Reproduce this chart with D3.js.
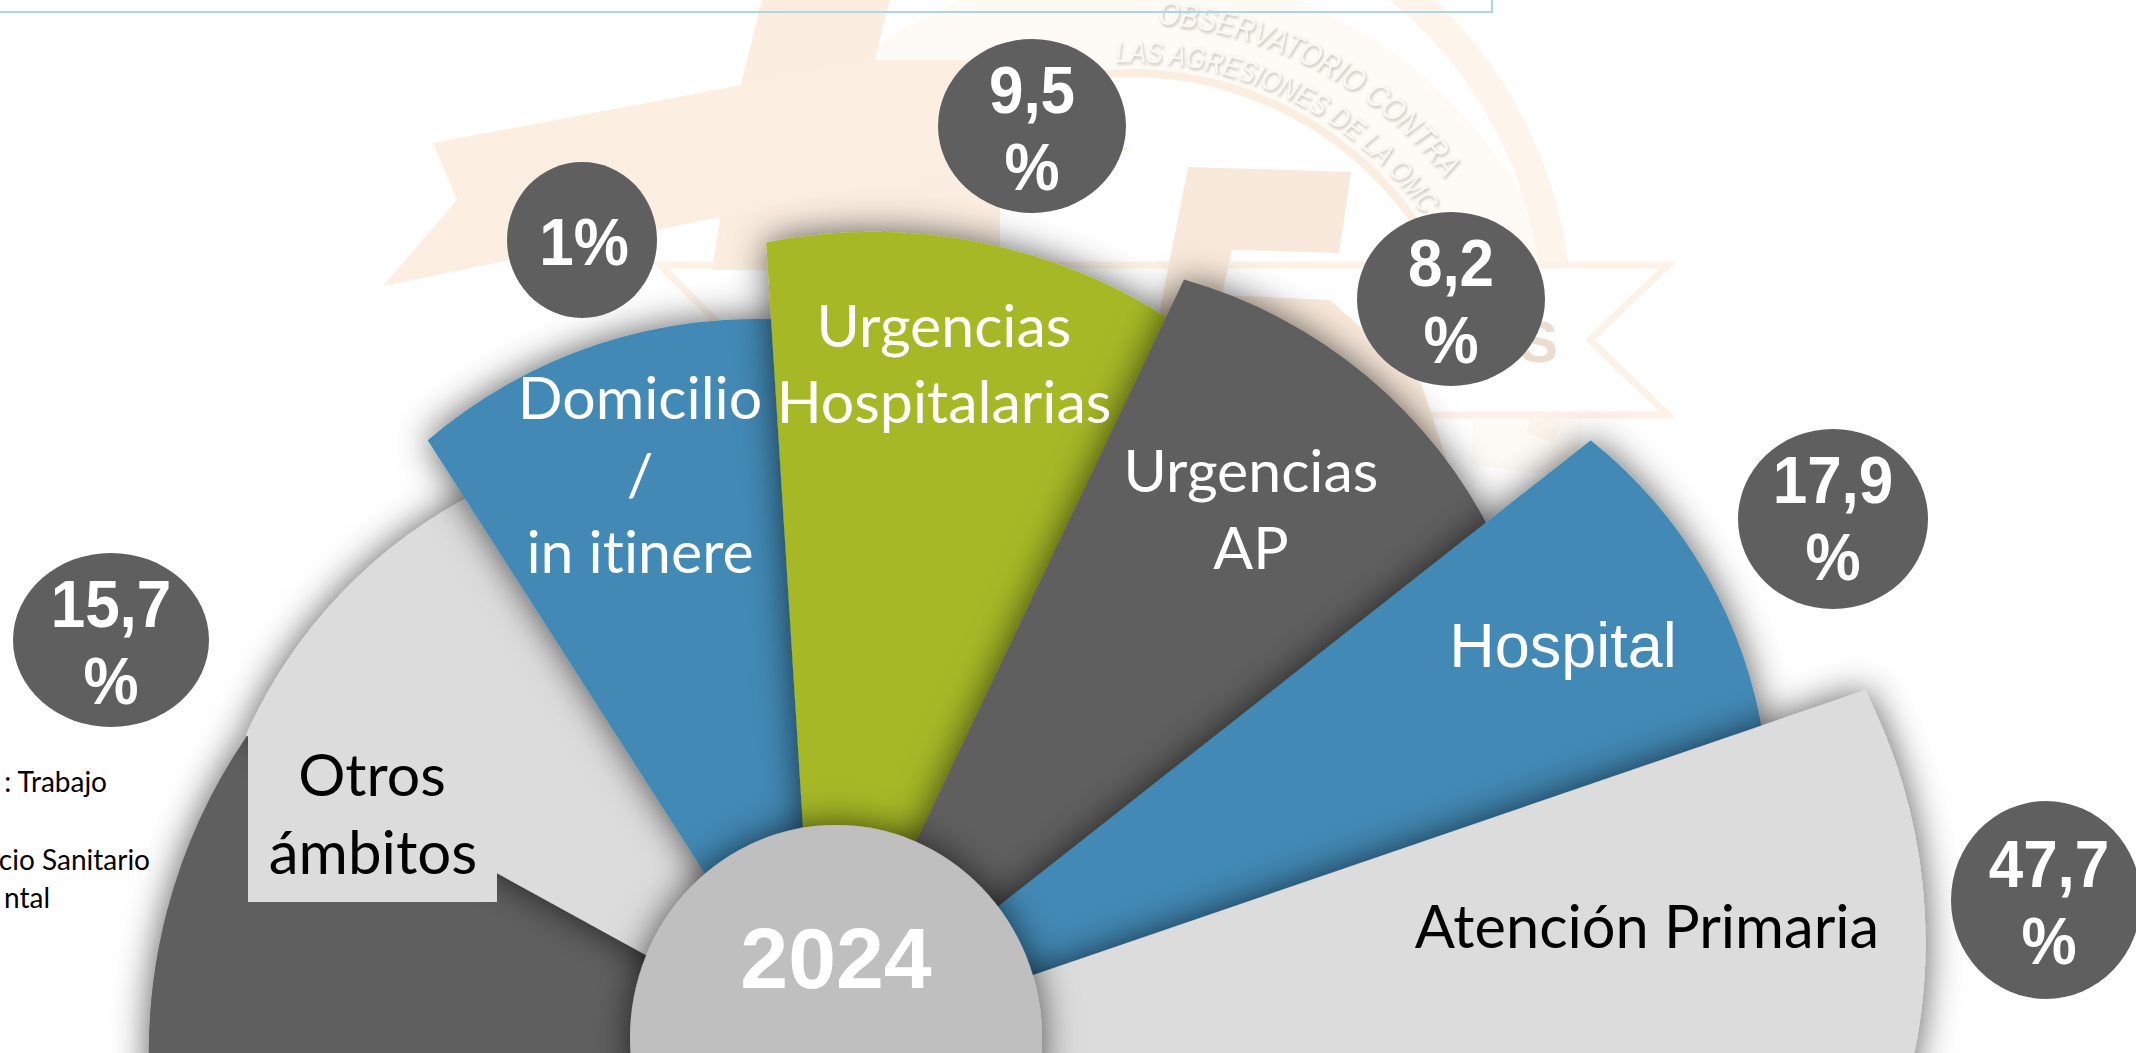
<!DOCTYPE html>
<html>
<head>
<meta charset="utf-8">
<script src="https://cdn.jsdelivr.net/npm/d3@7"></script>
<style>
  html, body { margin: 0; padding: 0; background: #fff; overflow: hidden; }
  svg { display: block; }
  .sans { font-family: "Liberation Sans", Arial, sans-serif; }
  .calibri { font-family: Lato, "Open Sans", sans-serif; font-variant-ligatures: none; }
</style>
</head>
<body>
<svg id="chart" width="2136" height="1053"></svg>
<script>
// values
const year = "2024";
const categories = ["Otros ámbitos", "Domicilio / in itinere", "Urgencias Hospitalarias", "Urgencias AP", "Hospital", "Atención Primaria"];
const percents = ["15,7", "1", "9,5", "8,2", "17,9", "47,7"];

// wedges, clockwise from the left. Otros has two wedges (dark under the light one)
// angles in degrees from straight up, reach on a 0-100 scale
const wedgeNames = ["otrosBase", "otros", "domicilio", "urgHosp", "urgAP", "hospital", "primaria"];
const wedgeStart = [-94.3, -61.2, -32.6, -3.6, 25.5, 51.8, 71.1];
const wedgeEnd = [-61.2, -31, -2, 26.5, 53, 72, 92];
const reachStart = [60.2, 58.7, 65.1, 72.8, 76.8, 88.7, 99.8];
const reachEnd = [58.6, 58.7, 65.7, 72.9, 76.4, 89.7, 98.2];
// the rims are not centred on the apex, each one bends on its own radius
const rimBend = [50.5, 45, 45.4, 49.1, 44.6, 42.6, 50];

const wedgeColors = ["#5f5f5f", "#dcdcdc", "#4289b5", "#a6b825", "#5f5f5f", "#4289b5", "#dcdcdc"];

const leftNotes = [": Trabajo", "cio Sanitario", "ntal"];
const logoTop = "OBSERVATORIO CONTRA";
const logoBottom = "LAS AGRESIONES DE LA OMC";

const svg = d3.select("#chart");
const cx = 817, cy = 1049;

const angle = d3.scaleLinear().domain([-90, 90]).range([-Math.PI / 2, Math.PI / 2]);
const radius = d3.scaleLinear().domain([0, 100]).range([0, 1110]);
const color = d3.scaleOrdinal().domain(wedgeNames).range(wedgeColors);

const wedges = wedgeNames.map((name, i) => ({
  name: name, start: wedgeStart[i], end: wedgeEnd[i],
  r0: reachStart[i], r1: reachEnd[i], bend: rimBend[i]
}));

const polar = (deg, reach) => [
  radius(reach) * Math.sin(angle(deg)),
  -radius(reach) * Math.cos(angle(deg))
];

function wedgePath(d) {
  const a = polar(d.start, d.r0), b = polar(d.end, d.r1);
  const r = radius(d.bend);
  const dx = b[0] - a[0], dy = b[1] - a[1], len = Math.hypot(dx, dy);
  const h = Math.sqrt(r * r - len * len / 4);
  // rim centre sits on the apex side of the chord
  const mx = (a[0] + b[0]) / 2 - h * dy / len;
  const my = (a[1] + b[1]) / 2 + h * dx / len;
  const p = d3.path();
  p.moveTo(0, 0);
  p.lineTo(a[0], a[1]);
  p.arc(mx, my, r, Math.atan2(a[1] - my, a[0] - mx), Math.atan2(b[1] - my, b[0] - mx));
  p.closePath();
  return p.toString();
}

const defs = svg.append("defs");
const shadow = defs.append("filter").attr("id", "shadow")
  .attr("x", "-20%").attr("y", "-20%").attr("width", "140%").attr("height", "140%");
shadow.append("feDropShadow")
  .attr("dx", 0).attr("dy", 0).attr("stdDeviation", 18)
  .attr("flood-color", "#000").attr("flood-opacity", 0.65);
const textShade = defs.append("filter").attr("id", "textShade");
textShade.append("feDropShadow")
  .attr("dx", 1).attr("dy", 2).attr("stdDeviation", 1.5)
  .attr("flood-color", "#b8aea4").attr("flood-opacity", 0.8);

// faded logo behind the chart
const logo = svg.append("g").attr("class", "logo");
const peach = "#fbeee0";

const ringX = 1130, ringY = 420;
logo.append("path")
  .attr("transform", `translate(${ringX},${ringY})`)
  .attr("d", d3.arc()({innerRadius: 343, outerRadius: 452, startAngle: -0.9, endAngle: 1.7}))
  .attr("fill", "#fefaf5");
logo.append("path")
  .attr("transform", `translate(${ringX},320)`)
  .attr("d", d3.arc()({innerRadius: 412, outerRadius: 442, startAngle: -0.5, endAngle: 1.85}))
  .attr("fill", "#fdf5ec");
logo.append("path")
  .attr("transform", `translate(${ringX},${ringY})`)
  .attr("d", d3.arc()({innerRadius: 343, outerRadius: 351, startAngle: -1.0, endAngle: 1.3}))
  .attr("fill", peach);

const poly = pts => d3.line()(pts) + "Z";

// star behind the number
logo.append("path")
  .attr("d", poly([[660, 265], [1668, 265], [1590, 340], [1668, 415], [1040, 415], [780, 415], [713, 318]]))
  .attr("fill", "#fff").attr("stroke", "#fdf2e7").attr("stroke-width", 7);

// the 1 and its ribbon
logo.append("path")
  .attr("d", poly([[762, 0], [890, 0], [872, 70], [1000, 70], [1000, 270], [832, 270], [712, 270], [742, 80]]))
  .attr("fill", peach);
logo.append("path")
  .attr("d", poly([[433, 143], [877, 60], [1010, 60], [1130, 150], [900, 180], [657, 230], [383, 286], [457, 200]]))
  .attr("fill", "#fcefe1");

// the 5
logo.append("path")
  .attr("d", poly([[1188, 167], [1351, 172], [1339, 253], [1232, 250], [1222, 295], [1330, 300], [1420, 380], [1460, 500], [1240, 520], [1130, 420], [1160, 310]]))
  .attr("fill", "#f9e9da");

logo.append("text").attr("class", "sans")
  .attr("x", 1558).attr("y", 362).attr("text-anchor", "end")
  .attr("font-size", 58).attr("font-weight", "bold").attr("fill", "#eadccf")
  .text("S");

// logo text on two arcs
const logoArc = (id, r, a0, a1) => defs.append("path").attr("id", id)
  .attr("d", d3.arc()({innerRadius: r, outerRadius: r, startAngle: a0, endAngle: a1}).split("L")[0]);
logoArc("logoArcTop", 397, 0.07, 0.95);
logoArc("logoArcBottom", 358, -0.04, 0.97);

[["logoArcTop", logoTop, 336, 33], ["logoArcBottom", logoBottom, 358, 30]].forEach(row => {
  const t = logo.append("text").attr("class", "sans")
    .attr("transform", `translate(${ringX},${ringY})`)
    .attr("font-size", row[3]).attr("font-style", "italic")
    .attr("fill", "#faf8f5").attr("filter", "url(#textShade)");
  t.append("textPath").attr("href", "#" + row[0])
    .attr("textLength", row[2]).attr("lengthAdjust", "spacingAndGlyphs")
    .text(row[1]);
});

// frame line at the top
svg.append("path")
  .attr("d", d3.line()([[0, 12], [1492, 12], [1492, 0]]))
  .attr("fill", "none").attr("stroke", "#aed4e8").attr("stroke-width", 2);

// wedges
const plot = svg.append("g").attr("transform", `translate(${cx},${cy})`);
plot.selectAll("path.wedge")
  .data(wedges)
  .enter().append("path")
    .attr("class", "wedge")
    .attr("d", wedgePath)
    .attr("fill", d => color(d.name))
    .attr("filter", "url(#shadow)");

// text box of Otros sits on top of the dark wedge
svg.append("rect")
  .attr("x", 248).attr("y", 729).attr("width", 249).attr("height", 173)
  .attr("fill", "#dcdcdc");

// hub
svg.append("ellipse")
  .attr("cx", 836).attr("cy", 1038).attr("rx", 206).attr("ry", 213)
  .attr("fill", "#bfbfbf").attr("filter", "url(#shadow)");
svg.append("text").attr("class", "sans")
  .attr("x", 836).attr("y", 988).attr("text-anchor", "middle")
  .attr("font-size", 86).attr("font-weight", "bold").attr("fill", "#fff")
  .text(year);

// wedge labels
const labelRows = [
  {t: "Otros", x: 372, y: 796, c: "#000", f: "calibri", s: 59},
  {t: "ámbitos", x: 373, y: 874, c: "#000", f: "calibri", s: 60},
  {t: "Domicilio", x: 640, y: 419, c: "#fff", f: "calibri", s: 59},
  {t: "/", x: 640, y: 496, c: "#fff", f: "calibri", s: 59},
  {t: "in itinere", x: 640, y: 573, c: "#fff", f: "calibri", s: 59},
  {t: "Urgencias", x: 944, y: 347, c: "#fff", f: "calibri", s: 59},
  {t: "Hospitalarias", x: 944, y: 423, c: "#fff", f: "calibri", s: 59},
  {t: "Urgencias", x: 1251, y: 492, c: "#fff", f: "calibri", s: 59},
  {t: "AP", x: 1251, y: 569, c: "#fff", f: "calibri", s: 59},
  {t: "Hospital", x: 1563, y: 667, c: "#fff", f: "sans", s: 63},
  {t: "Atención Primaria", x: 1647, y: 948, c: "#000", f: "calibri", s: 59.5}
];
svg.selectAll("text.label")
  .data(labelRows)
  .enter().append("text")
    .attr("class", d => "label " + d.f)
    .attr("x", d => d.x).attr("y", d => d.y)
    .attr("text-anchor", "middle")
    .attr("font-size", d => d.s)
    .attr("fill", d => d.c)
    .text(d => d.t);

// bubbles with the percentages
const bubbleSpots = [
  {x: 111, y: 640, rx: 98, ry: 87, dx: 0, dy: 0},
  {x: 582, y: 240, rx: 75, ry: 78, dx: 2, dy: 0},
  {x: 1032, y: 126, rx: 94, ry: 87, dx: 0, dy: 0},
  {x: 1451, y: 299, rx: 94, ry: 87, dx: 0, dy: 0},
  {x: 1833, y: 519, rx: 95, ry: 90, dx: 0, dy: -3},
  {x: 2046, y: 900, rx: 95, ry: 99, dx: 3, dy: 0}
];
const bubbles = svg.selectAll("g.bubble")
  .data(percents)
  .enter().append("g").attr("class", "bubble")
    .attr("transform", (d, i) => `translate(${bubbleSpots[i].x},${bubbleSpots[i].y})`);
bubbles.append("ellipse")
  .attr("rx", (d, i) => bubbleSpots[i].rx)
  .attr("ry", (d, i) => bubbleSpots[i].ry)
  .attr("fill", "#5f5f5f");
bubbles.each(function(d, i) {
  const g = d3.select(this);
  const spot = bubbleSpots[i];
  const lines = d.length < 2 ? [d + "%"] : [d, "%"];
  lines.forEach((line, k) => {
    const y = (lines.length === 1 ? 25 : (k === 0 ? -13 : 64)) + spot.dy;
    g.append("text").attr("class", "sans")
      .attr("transform", `translate(${spot.dx},${y}) scale(1,1.07)`)
      .attr("text-anchor", "middle")
      .attr("font-size", 62).attr("font-weight", "bold").attr("fill", "#fff")
      .text(line);
  });
});

// leftovers of a legend cut by the page edge
const noteEnds = [107, 150, 50], noteBase = [792, 870, 908];
svg.selectAll("text.note")
  .data(leftNotes)
  .enter().append("text")
    .attr("class", "note calibri")
    .attr("x", (d, i) => noteEnds[i]).attr("y", (d, i) => noteBase[i])
    .attr("text-anchor", "end")
    .attr("font-size", 28).attr("fill", "#000")
    .text(d => d);
</script>
</body>
</html>
